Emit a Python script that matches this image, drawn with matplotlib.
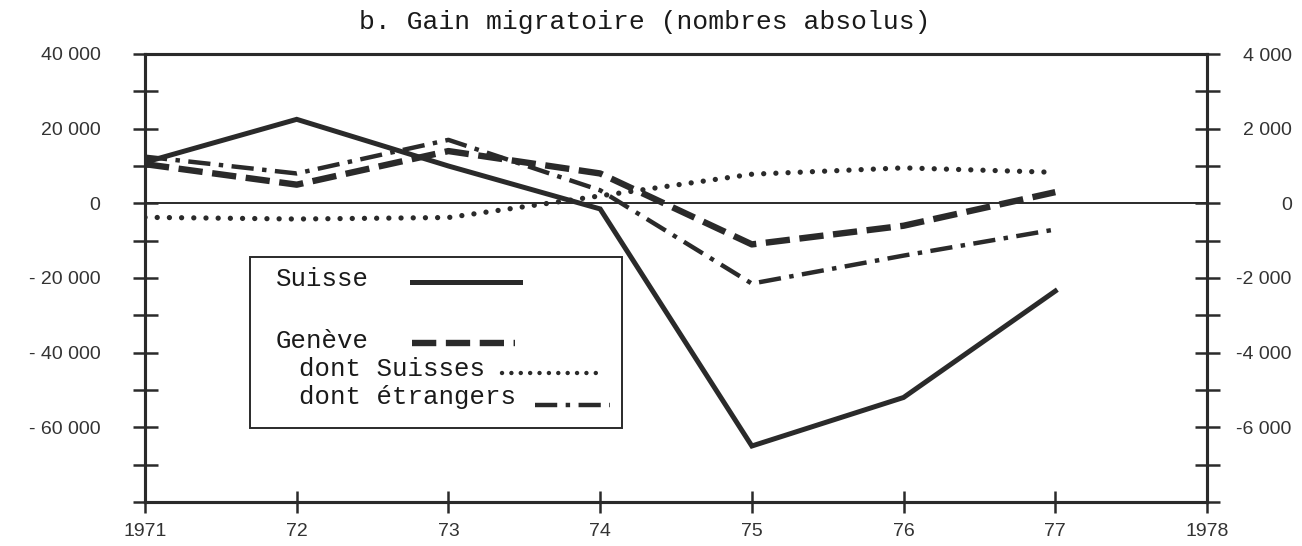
import matplotlib
matplotlib.use("Agg")
import matplotlib.pyplot as plt
from matplotlib.patches import Rectangle
from matplotlib.lines import Line2D
import numpy as np

# ---- data ----
years = [1971, 1972, 1973, 1974, 1975, 1976, 1977]
suisse = [11000, 22500, 10000, -1500, -65000, -52000, -23500]          # left axis
geneve = [1050, 500, 1400, 800, -1100, -600, 300]                      # right axis
geneve_suisses = [-375, -420, -380, 200, 780, 950, 830]                # right axis
geneve_etrangers = [1250, 800, 1700, 350, -2150, -1400, -700]          # right axis

xticks = [1971, 1972, 1973, 1974, 1975, 1976, 1977, 1978]
xticklabels = ["1971", "72", "73", "74", "75", "76", "77", "1978"]
left_ticks = [40000, 20000, 0, -20000, -40000, -60000]
left_labels = ["40 000", "20 000", "0", "- 20 000", "- 40 000", "- 60 000"]
right_ticks = [4000, 2000, 0, -2000, -4000, -6000]
right_labels = ["4 000", "2 000", "0", "-2 000", "-4 000", "-6 000"]
title = "b. Gain migratoire (nombres absolus)"
legend_labels = ["Suisse", "Genève", "dont Suisses", "dont étrangers"]

ink = "#2a2a2a"
mono = ["Liberation Mono", "DejaVu Sans Mono"]
sans = ["Liberation Sans", "DejaVu Sans"]

fig = plt.figure(figsize=(13.02, 5.46), dpi=100)
ax = fig.add_axes([145/1302, 44/546, 1062/1302, 448/546])
ax2 = ax.twinx()

ax.set_xlim(1971, 1978)
ax.set_ylim(-80000, 40000)
ax2.set_ylim(-8000, 4000)

# zero line
ax.axhline(0, color=ink, lw=1.4, zorder=1)

# series
ax.plot(years, suisse, color=ink, lw=3.6, solid_joinstyle="miter", zorder=3)
ax2.plot(years, geneve, color=ink, lw=4.6, dashes=(3.8, 1.5), zorder=3)
ax2.plot(years, geneve_suisses, color=ink, lw=3.8, dashes=(0.01, 2.3),
         dash_capstyle="round", zorder=3)
ax2.plot(years, geneve_etrangers, color=ink, lw=3.2, dashes=(5, 1.9, 1, 1.9), zorder=3)

# axes styling
for a in (ax, ax2):
    for s in a.spines.values():
        s.set_linewidth(2.2)
        s.set_color(ink)

ax.set_xticks(xticks)
ax.set_xticklabels(xticklabels, fontsize=14, color="#333333", family=sans)
ax.tick_params(axis="x", direction="inout", length=16, width=1.8, color=ink, pad=7)

ax.set_yticks(left_ticks)
ax.set_yticklabels(left_labels, fontsize=14, color="#333333", family=sans)
ax.set_yticks(np.arange(-80000, 40001, 10000), minor=True)
ax.tick_params(axis="y", which="both", direction="inout", length=18, width=1.8,
               color=ink, pad=23)

ax2.set_yticks(right_ticks)
ax2.set_yticklabels(right_labels, fontsize=14, color="#333333", family=sans,
                    ha="right")
ax2.set_yticks(np.arange(-8000, 4001, 1000), minor=True)
ax2.tick_params(axis="y", which="both", direction="inout", length=18, width=1.8,
                color=ink, pad=52)

fig.text(645/1302, 1 - 22/546, title, ha="center", va="center",
         fontsize=19, family=mono, color="#1a1a1a")

# legend box (manual)
T = ax2.transAxes
ax2.add_patch(Rectangle((0.0989, 0.165), 0.350, 0.382, transform=T,
                        facecolor="white", edgecolor=ink, lw=1.4, zorder=10))
fs = 18.5
ax2.text(0.1234, 0.498, legend_labels[0], transform=T, va="center", ha="left",
         fontsize=fs, family=mono, color="#1a1a1a", zorder=11)
ax2.text(0.1234, 0.359, legend_labels[1], transform=T, va="center", ha="left",
         fontsize=fs, family=mono, color="#1a1a1a", zorder=11)
ax2.text(0.145, 0.296, legend_labels[2], transform=T, va="center", ha="left",
         fontsize=fs, family=mono, color="#1a1a1a", zorder=11)
ax2.text(0.145, 0.234, legend_labels[3], transform=T, va="center", ha="left",
         fontsize=fs, family=mono, color="#1a1a1a", zorder=11)

ax2.add_line(Line2D([0.2514, 0.353], [0.491, 0.491], transform=T, color=ink,
                    lw=3.6, zorder=11))
ax2.add_line(Line2D([0.2514, 0.348], [0.355, 0.355], transform=T, color=ink,
                    lw=4.6, dashes=(3.8, 1.5), zorder=11))
ax2.add_line(Line2D([0.336, 0.4266], [0.288, 0.288], transform=T, color=ink,
                    lw=3.2, dashes=(0.01, 2.1), dash_capstyle="round", zorder=11))
ax2.add_line(Line2D([0.367, 0.438], [0.2165, 0.2165], transform=T, color=ink,
                    lw=3.2, dashes=(5, 1.9, 1, 1.9), zorder=11))

fig.savefig("out.png", dpi=100)
